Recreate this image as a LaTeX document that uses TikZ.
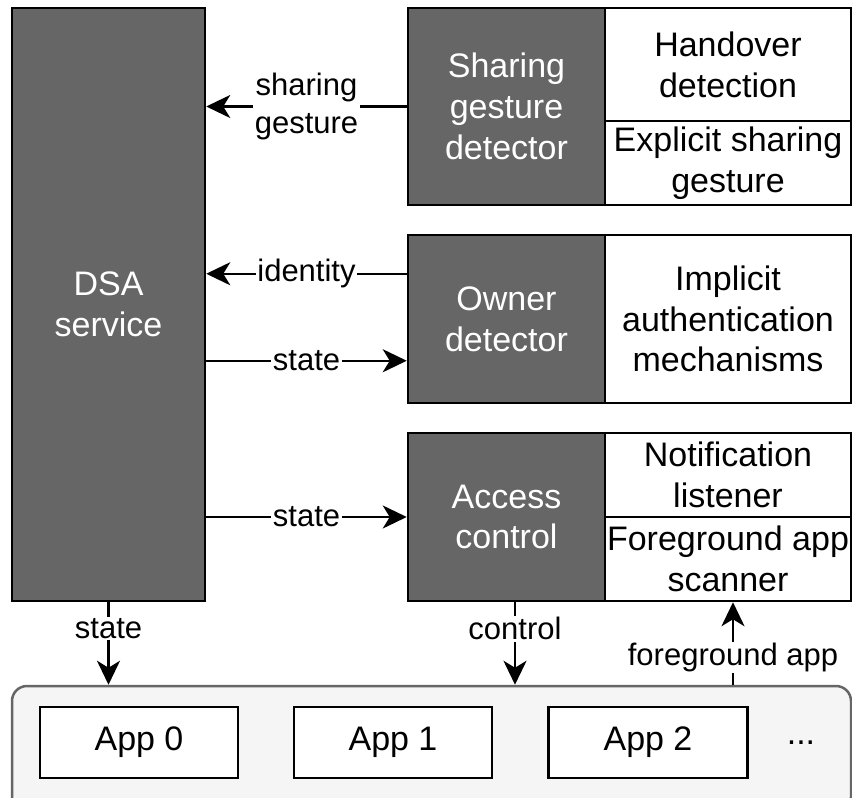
\documentclass[tikz,border=0pt]{standalone}
\usepackage{fontspec}
\setmainfont{Liberation Sans}
\usetikzlibrary{arrows.meta,calc}
\tikzset{
  box/.style={draw=black, line width=2.5pt, rectangle, inner sep=0pt, align=center,
    font=\fontsize{34}{40.8}\selectfont},
  darkbox/.style={box, fill=darkfill, text=white},
  whitebox/.style={box, fill=white},
  lbl/.style={fill=white, inner sep=1.5pt, align=center, font=\fontsize{31}{38}\selectfont},
  arr/.style={line width=2.5pt, -{Stealth[length=24pt, width=23pt, inset=7pt]}},
}
\definecolor{darkfill}{HTML}{666666}
\definecolor{panel}{HTML}{F5F5F5}
\definecolor{panelline}{HTML}{666666}
\begin{document}
\begin{tikzpicture}[x=1pt, y=-1pt]
\useasboundingbox (0,0) rectangle (852,798);
\clip (0,0) rectangle (852,798);

% app panel at the bottom
\node[draw=panelline, fill=panel, line width=2.5pt, rounded corners=15pt, rectangle,
      minimum width=839pt, minimum height=126pt, inner sep=0pt] (apps) at (431.5,749) {};
\node[whitebox, minimum width=198pt, minimum height=71pt] (app0) at (139,742.5) {App 0};
\node[whitebox, minimum width=198pt, minimum height=71pt] (app1) at (393,742.5) {App 1};
\node[whitebox, minimum width=199pt, minimum height=71pt] (app2) at (648,742.5) {App 2};
\node[font=\fontsize{34}{40.8}\selectfont] (dots) at (801,743) {...};

% service column
\node[darkbox, minimum width=193pt, minimum height=593pt] (dsa) at (108.5,304.5) {DSA\\service};

% sharing gesture detector
\node[darkbox, minimum width=197pt, minimum height=197pt] (sgd) at (506.5,106.5) {Sharing\\gesture\\detector};
\node[whitebox, minimum width=246pt, minimum height=113pt] (hand) at (728,64.5) {Handover\\detection};
\node[whitebox, minimum width=246pt, minimum height=84pt] (expl) at (728,163) {Explicit sharing\\gesture};

% owner detector
\node[darkbox, minimum width=197pt, minimum height=168pt] (own) at (506.5,319) {Owner\\detector};
\node[whitebox, minimum width=246pt, minimum height=168pt] (impl) at (728,319) {Implicit\\authentication\\mechanisms};

% access control
\node[darkbox, minimum width=197pt, minimum height=168pt] (acc) at (506.5,517) {Access\\control};
\node[whitebox, minimum width=246pt, minimum height=84pt] (notif) at (728,475) {Notification\\listener};
\node[whitebox, minimum width=246pt, minimum height=84pt] (fgs) at (728,559) {Foreground app\\scanner};

% connectors
\draw[arr] (sgd.west) -- (sgd.west -| dsa.east)
  node[lbl, midway] {sharing\\gesture};
\coordinate (idp) at ($(own.north west)+(0,40)$);
\draw[arr] (idp) -- (idp -| dsa.east) node[lbl, midway] {identity};
\coordinate (stp) at ($(own.north west)+(0,127)$);
\draw[arr] (stp -| dsa.east) -- (stp) node[lbl, midway] {state};
\draw[arr] (acc.west -| dsa.east) -- (acc.west) node[lbl, midway] {state};

\draw[arr] (dsa.south) -- (dsa.south |- apps.north) node[lbl, pos=0.32] {state};
\coordinate (ctl) at ($(acc.south)+(8.5,0)$);
\draw[arr] (ctl) -- (ctl |- apps.north) node[lbl, pos=0.32] {control};
\coordinate (fga) at ($(fgs.south)+(5,0)$);
\draw[arr] (fga |- apps.north) -- (fga) node[lbl, pos=0.33] {foreground app};
\end{tikzpicture}
\end{document}
